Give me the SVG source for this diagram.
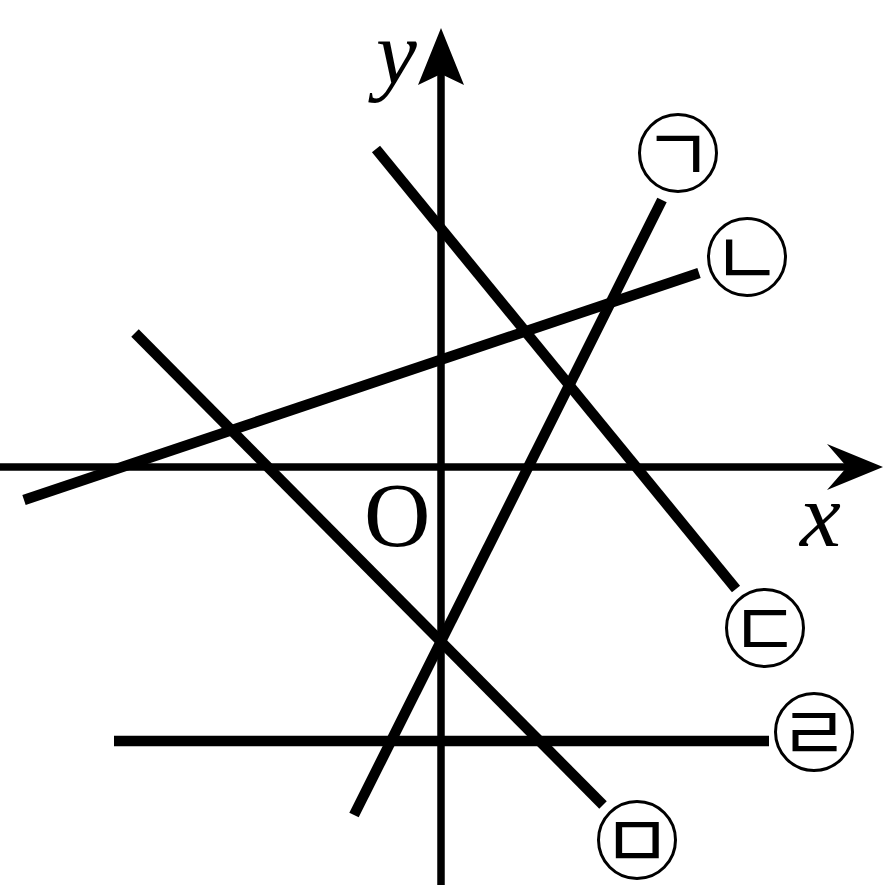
<svg xmlns="http://www.w3.org/2000/svg" width="884" height="894" viewBox="0 0 884 894">
<style>
.axis{stroke:#000;stroke-width:7.5;fill:none}
.ln{stroke:#000;stroke-width:10.5;stroke-linecap:butt;fill:none}
.circ{fill:#fff;stroke:#000;stroke-width:3}
.lbl{font-family:"Noto Sans CJK KR",sans-serif;font-size:76px;font-weight:400;text-anchor:middle;dominant-baseline:central}
.math{font-family:"Liberation Serif",serif;font-size:92px}
</style>
<rect width="884" height="894" fill="#fff"/>
<g id="axes">
<line class="axis" x1="0" y1="467" x2="850" y2="467"/>
<path d="M883,467 L827,444 L847,467 L827,490 Z" fill="#000"/>
<line class="axis" x1="441" y1="885" x2="441" y2="70"/>
<path d="M441,28 L418,85 L441,74 L464,85 Z" fill="#000"/>
<text class="math" x="800" y="546" font-style="italic">x</text>
<text class="math" x="376" y="84" font-style="italic">y</text>
<text class="math" x="364" y="546">O</text>
</g>
<g id="connectors">
<line id="line-g" class="ln" x1="354" y1="815" x2="662" y2="200"/>
<line id="line-n" class="ln" x1="24" y1="500" x2="699" y2="273"/>
<line id="line-d" class="ln" x1="376" y1="149" x2="736" y2="589"/>
<line id="line-r" class="ln" x1="114" y1="741" x2="769" y2="741"/>
<line id="line-m" class="ln" x1="135" y1="333" x2="603" y2="805"/>
</g>
<g id="label-g"><circle class="circ" cx="678" cy="153" r="38.5"/><text class="lbl" x="678" y="149">ㄱ</text></g>
<g id="label-n"><circle class="circ" cx="747" cy="257" r="38.5"/><text class="lbl" x="747" y="253">ㄴ</text></g>
<g id="label-d"><circle class="circ" cx="765" cy="628" r="38.5"/><text class="lbl" x="765" y="624">ㄷ</text></g>
<g id="label-r"><circle class="circ" cx="814" cy="732" r="38.5"/><text class="lbl" x="814" y="728">ㄹ</text></g>
<g id="label-m"><circle class="circ" cx="637" cy="840" r="38.5"/><text class="lbl" x="637" y="836">ㅁ</text></g>
</svg>
